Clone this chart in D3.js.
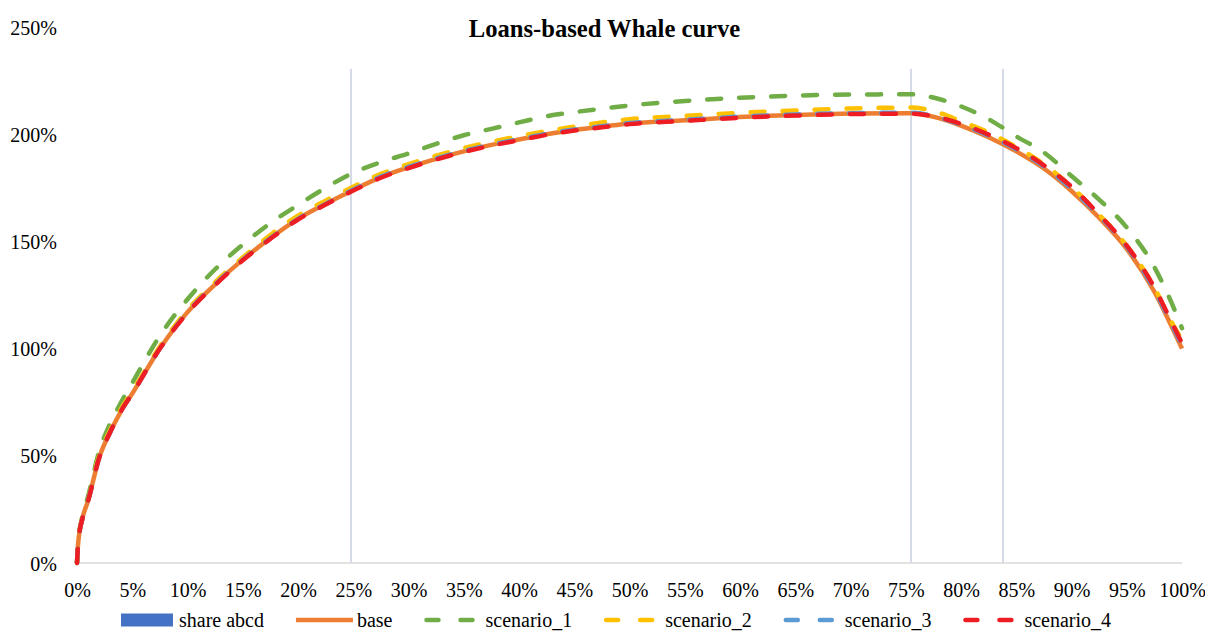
<!DOCTYPE html>
<html>
<head>
<meta charset="utf-8">
<script src="https://cdn.jsdelivr.net/npm/d3@7/dist/d3.min.js"></script>
<style>
  html, body { margin: 0; padding: 0; background: #ffffff; }
  svg { display: block; font-family: "Liberation Serif", "Times New Roman", serif; }
</style>
</head>
<body>
<svg id="chart" width="1205" height="632"></svg>
<script>
// Cumulative share of customers (%)
const shareX = [0, 0.1, 0.5, 1, 2, 3, 4, 5, 7.5, 10, 12.5, 15, 17.5, 20, 22.5, 25,
  27.5, 30, 32.5, 35, 37.5, 40, 42.5, 45, 47.5, 50, 55, 60, 65, 70, 75.5,
  78, 80, 82.5, 85, 87.5, 90, 92.5, 95, 97.5, 99, 100];

// Cumulative profit (%) for each scenario
const base = [0, 9, 21, 29, 49, 61, 71, 79, 100, 117, 130, 141.5, 151.5, 160.5, 167.5, 174,
  180, 184.5, 188.5, 192, 195, 197.5, 200, 202, 203.5, 205, 206.5, 208, 209, 209.6, 209.8,
  207.5, 204, 198.6, 192, 184, 173.5, 161, 146.5, 126.5, 111, 100];
const scenario1 = [0, 9, 22, 31, 52, 65, 75, 84, 106, 123, 137, 148.5, 158.5, 167, 175, 182,
  187, 191, 195.5, 199.5, 202.5, 205.5, 208.4, 210.3, 211.9, 213.4, 215.5, 217, 218, 218.5, 218.6,
  216.4, 213, 207, 199, 191.5, 180.5, 169.5, 156.5, 138, 122, 109.5];
const scenario2 = [0, 9, 21.5, 29.5, 50, 62, 72, 80, 101, 118, 131, 142.5, 153, 162, 169, 175.5,
  181.5, 186, 190, 193.5, 196.5, 199, 201.5, 203.5, 205.5, 207, 208.5, 210, 211, 212, 212.4,
  210, 206, 200.8, 194, 186, 175.5, 162.5, 148, 128.5, 113, 104];
const scenario3 = [0, 9, 21, 29, 49, 61, 71, 79, 100, 117, 130, 141.5, 151.5, 160.5, 167.5, 174.2,
  180.2, 184.7, 188.7, 192.2, 195.2, 197.7, 200.2, 202.2, 203.7, 205.2, 206.7, 208.2, 209.2, 209.8, 210,
  207.8, 204.5, 199.3, 193, 185, 174.5, 162, 147.5, 127.5, 112, 101.5];
const scenario4 = [0, 9, 21, 29, 49, 61, 71, 79, 100, 116.7, 129.7, 141.2, 151.2, 160.2, 167.2, 173.7,
  179.7, 184.2, 188.2, 191.7, 194.7, 197.2, 199.7, 201.7, 203.2, 204.7, 206.2, 207.7, 208.7, 209.4, 209.6,
  207.8, 204.8, 199.8, 193.5, 185.5, 175.5, 162.5, 148, 128.5, 113, 102.5];

// Segment boundaries (share abcd columns)
const shareAbcdX = [24.8, 75.5, 83.8];
const shareAbcdY = [230.5, 230.5, 230.5];

const xTicks = d3.range(0, 101, 5);
const yTicks = [0, 50, 100, 150, 200, 250];

const seriesNames = ["base", "scenario_1", "scenario_2", "scenario_3", "scenario_4"];
const seriesValues = [base, scenario1, scenario2, scenario3, scenario4];
const colors = {
  "share abcd": "#4472c4",
  "base": "#ed7d31",
  "scenario_1": "#70ad47",
  "scenario_2": "#ffc000",
  "scenario_3": "#5b9bd5",
  "scenario_4": "#ee1d23"
};

const svg = d3.select("#chart");
const x = d3.scaleLinear().domain([0, 100]).range([77, 1182]);
const y = d3.scaleLinear().domain([0, 250]).range([563, 27]);

// Title
svg.append("text")
  .attr("x", 604.5).attr("y", 36.5)
  .attr("text-anchor", "middle")
  .attr("font-size", "24.6px").attr("font-weight", "bold")
  .attr("fill", "#000")
  .text("Loans-based Whale curve");

// Share abcd columns (thin)
svg.append("g").selectAll("rect")
  .data(shareAbcdX.map((v, i) => ({ x: v, y: shareAbcdY[i] })))
  .join("rect")
  .attr("x", d => Math.round(x(d.x)) - 0.5)
  .attr("width", 1)
  .attr("y", d => y(d.y))
  .attr("height", d => y(0) - y(d.y))
  .attr("fill", "#a9b7d0");

// X axis baseline
const xAxis = d3.axisBottom(x).tickValues(xTicks).tickSize(0).tickFormat(d => d + "%");
const gx = svg.append("g").attr("transform", "translate(0,563)").call(xAxis);
gx.select(".domain").attr("stroke", "#d9d9d9").attr("stroke-width", 1.5)
  .attr("d", "M75,0H1182");
gx.selectAll("text")
  .attr("font-size", "20px").attr("fill", "#000")
  .attr("font-family", "Liberation Serif, Times New Roman, serif")
  .attr("dy", null).attr("y", 34);

// Y axis labels
const yAxis = d3.axisLeft(y).tickValues(yTicks).tickSize(0).tickFormat(d => d + "%");
const gy = svg.append("g").attr("transform", "translate(57,0)").call(yAxis);
gy.select(".domain").remove();
gy.selectAll("text")
  .attr("font-size", "20px").attr("fill", "#000")
  .attr("font-family", "Liberation Serif, Times New Roman, serif")
  .attr("x", 0).attr("dy", "0.35em");

// Curves
const line = d3.line()
  .x((d, i) => x(shareX[i]))
  .y(d => y(d))
  .curve(d3.curveMonotoneX);

const dash = "14 18";
const lines = svg.append("g").attr("fill", "none");
seriesNames.forEach((name, k) => {
  lines.append("path")
    .datum(seriesValues[k])
    .attr("d", line)
    .attr("stroke", colors[name])
    .attr("stroke-width", name === "base" ? 4.5 : 4.5)
    .attr("stroke-linecap", name === "base" ? "butt" : "round")
    .attr("stroke-linejoin", "round")
    .attr("stroke-dasharray", name === "base" ? null : dash);
});

// Legend
const legendItems = ["share abcd"].concat(seriesNames);
const legend = svg.append("g").attr("font-size", "20px");
let lx = 121;
const ly = 620;
legendItems.forEach(name => {
  const g = legend.append("g");
  if (name === "share abcd") {
    g.append("rect").attr("x", lx).attr("y", ly - 6.5).attr("width", 52).attr("height", 13)
      .attr("fill", colors[name]);
  } else {
    g.append("line")
      .attr("x1", name === "base" ? lx : lx + 2).attr("x2", lx + 57)
      .attr("y1", ly).attr("y2", ly)
      .attr("stroke", colors[name]).attr("stroke-width", 4.5)
      .attr("stroke-linecap", name === "base" ? "butt" : "round")
      .attr("stroke-dasharray", name === "base" ? null : "12 22");
  }
  const t = g.append("text")
    .attr("x", lx + (name === "share abcd" ? 58 : 61)).attr("y", ly + 7)
    .attr("fill", "#000")
    .text(name);
  lx = lx + (name === "share abcd" ? 58 : 61) + t.node().getComputedTextLength() + 32;
});
</script>
</body>
</html>
